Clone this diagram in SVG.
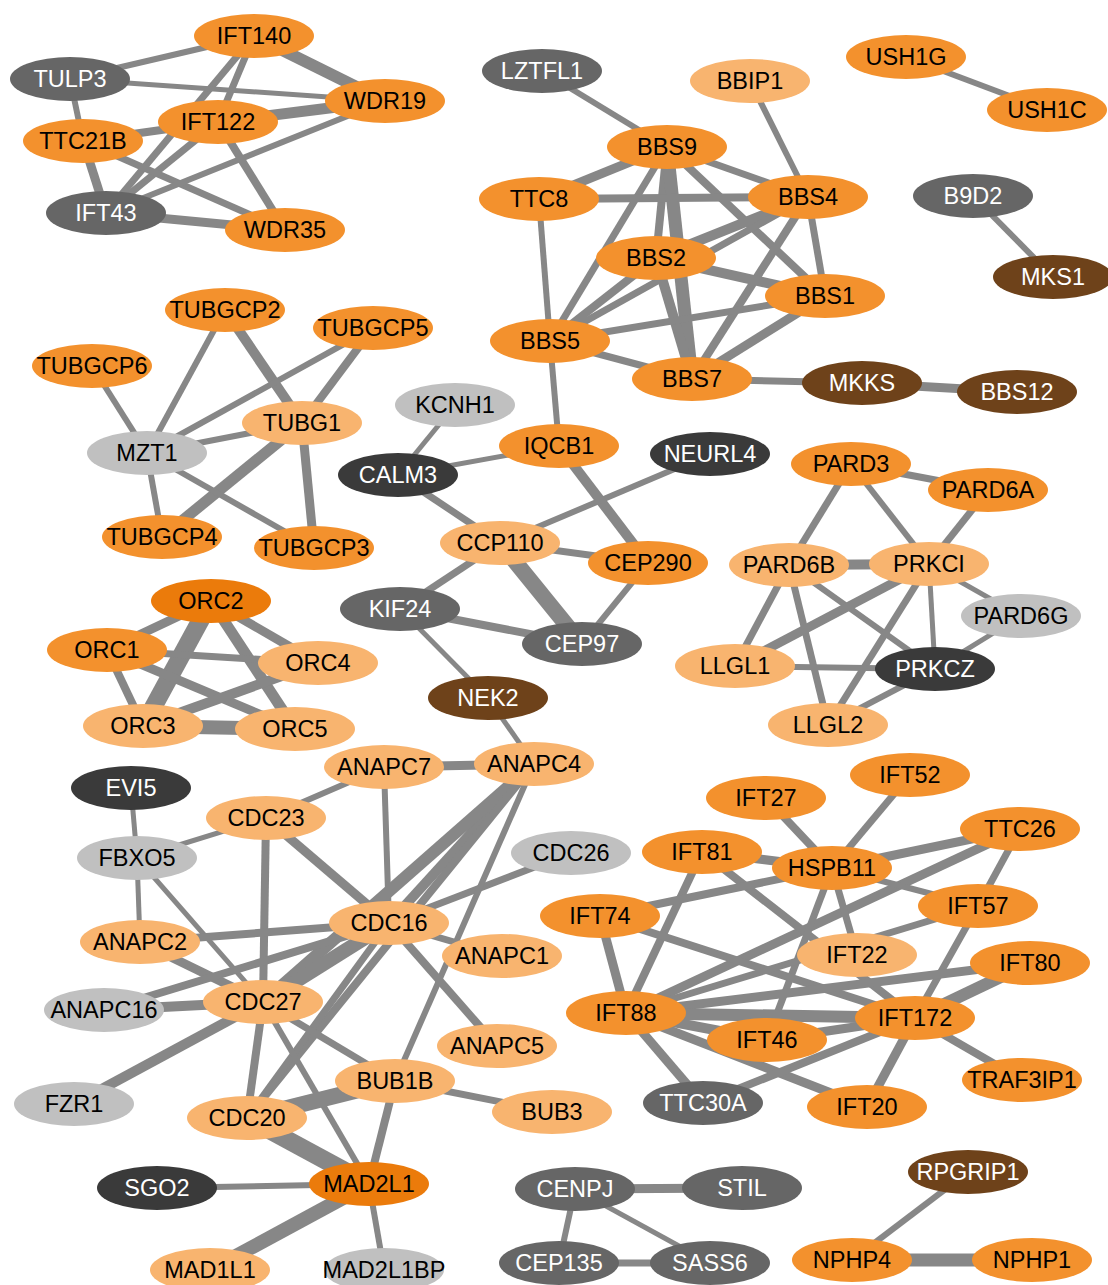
<svg xmlns="http://www.w3.org/2000/svg" width="1108" height="1285" viewBox="0 0 1108 1285">
<style>
text{font-family:"Liberation Sans",Arial,sans-serif;font-size:23.5px;text-anchor:middle}
.o ellipse{fill:#F3912D}.lo ellipse{fill:#F8B46F}.do ellipse{fill:#EB7B0B}
.lg ellipse{fill:#C0C0C0}.g ellipse{fill:#666666}.dk ellipse{fill:#3A3A3A}.br ellipse{fill:#6E421A}
.o text,.lo text,.do text,.lg text{fill:#000}
.g text,.dk text,.br text{fill:#fff}
#connectors line{stroke:#878787}
</style>
<rect width="1108" height="1285" fill="#fff"/>
<g id="connectors">
<line x1="254" y1="36" x2="70" y2="79" stroke-width="6"/>
<line x1="254" y1="36" x2="385" y2="101" stroke-width="12"/>
<line x1="254" y1="36" x2="218" y2="122" stroke-width="7"/>
<line x1="254" y1="36" x2="106" y2="213" stroke-width="7"/>
<line x1="70" y1="79" x2="385" y2="101" stroke-width="5"/>
<line x1="70" y1="79" x2="83" y2="141" stroke-width="6"/>
<line x1="218" y1="122" x2="385" y2="101" stroke-width="11"/>
<line x1="218" y1="122" x2="83" y2="141" stroke-width="8"/>
<line x1="218" y1="122" x2="285" y2="230" stroke-width="8"/>
<line x1="218" y1="122" x2="106" y2="213" stroke-width="7"/>
<line x1="83" y1="141" x2="106" y2="213" stroke-width="9"/>
<line x1="83" y1="141" x2="285" y2="230" stroke-width="7"/>
<line x1="106" y1="213" x2="285" y2="230" stroke-width="9"/>
<line x1="106" y1="213" x2="385" y2="101" stroke-width="6"/>

<line x1="542" y1="71" x2="667" y2="147" stroke-width="6"/>
<line x1="750" y1="81" x2="808" y2="197" stroke-width="6"/>
<line x1="667" y1="147" x2="539" y2="199" stroke-width="9"/>
<line x1="667" y1="147" x2="808" y2="197" stroke-width="7"/>
<line x1="667" y1="147" x2="656" y2="258" stroke-width="8"/>
<line x1="667" y1="147" x2="692" y2="379" stroke-width="13"/>
<line x1="667" y1="147" x2="550" y2="341" stroke-width="7"/>
<line x1="667" y1="147" x2="825" y2="296" stroke-width="8"/>
<line x1="539" y1="199" x2="808" y2="197" stroke-width="8"/>
<line x1="539" y1="199" x2="550" y2="341" stroke-width="6"/>
<line x1="808" y1="197" x2="656" y2="258" stroke-width="10"/>
<line x1="808" y1="197" x2="550" y2="341" stroke-width="7"/>
<line x1="808" y1="197" x2="825" y2="296" stroke-width="7"/>
<line x1="808" y1="197" x2="692" y2="379" stroke-width="8"/>
<line x1="656" y1="258" x2="825" y2="296" stroke-width="10"/>
<line x1="656" y1="258" x2="692" y2="379" stroke-width="10"/>
<line x1="656" y1="258" x2="550" y2="341" stroke-width="8"/>
<line x1="550" y1="341" x2="825" y2="296" stroke-width="7"/>
<line x1="550" y1="341" x2="692" y2="379" stroke-width="7"/>
<line x1="825" y1="296" x2="692" y2="379" stroke-width="9"/>
<line x1="692" y1="379" x2="862" y2="383" stroke-width="7"/>
<line x1="862" y1="383" x2="1017" y2="392" stroke-width="9"/>
<line x1="550" y1="341" x2="559" y2="446" stroke-width="6"/>
<line x1="906" y1="57" x2="1047" y2="110" stroke-width="6"/>
<line x1="973" y1="196" x2="1053" y2="277" stroke-width="6"/>

<line x1="92" y1="366" x2="147" y2="453" stroke-width="6"/>
<line x1="225" y1="310" x2="147" y2="453" stroke-width="6"/>
<line x1="225" y1="310" x2="302" y2="423" stroke-width="10"/>
<line x1="373" y1="328" x2="147" y2="453" stroke-width="6"/>
<line x1="373" y1="328" x2="302" y2="423" stroke-width="8"/>
<line x1="147" y1="453" x2="302" y2="423" stroke-width="6"/>
<line x1="302" y1="423" x2="162" y2="537" stroke-width="11"/>
<line x1="302" y1="423" x2="314" y2="548" stroke-width="9"/>
<line x1="147" y1="453" x2="162" y2="537" stroke-width="6"/>
<line x1="147" y1="453" x2="314" y2="548" stroke-width="6"/>

<line x1="455" y1="405" x2="398" y2="475" stroke-width="5"/>
<line x1="398" y1="475" x2="559" y2="446" stroke-width="5"/>
<line x1="398" y1="475" x2="500" y2="543" stroke-width="7"/>
<line x1="559" y1="446" x2="648" y2="563" stroke-width="10"/>
<line x1="710" y1="454" x2="500" y2="543" stroke-width="6"/>
<line x1="500" y1="543" x2="648" y2="563" stroke-width="7"/>
<line x1="500" y1="543" x2="400" y2="609" stroke-width="7"/>
<line x1="500" y1="543" x2="582" y2="644" stroke-width="16"/>
<line x1="648" y1="563" x2="582" y2="644" stroke-width="6"/>
<line x1="400" y1="609" x2="582" y2="644" stroke-width="8"/>
<line x1="400" y1="609" x2="488" y2="698" stroke-width="5"/>

<line x1="851" y1="464" x2="988" y2="490" stroke-width="7"/>
<line x1="851" y1="464" x2="789" y2="565" stroke-width="7"/>
<line x1="851" y1="464" x2="929" y2="564" stroke-width="6"/>
<line x1="988" y1="490" x2="929" y2="564" stroke-width="7"/>
<line x1="789" y1="565" x2="929" y2="564" stroke-width="10"/>
<line x1="789" y1="565" x2="735" y2="666" stroke-width="7"/>
<line x1="789" y1="565" x2="828" y2="725" stroke-width="7"/>
<line x1="789" y1="565" x2="935" y2="669" stroke-width="6"/>
<line x1="929" y1="564" x2="735" y2="666" stroke-width="9"/>
<line x1="929" y1="564" x2="828" y2="725" stroke-width="7"/>
<line x1="929" y1="564" x2="935" y2="669" stroke-width="5"/>
<line x1="929" y1="564" x2="1021" y2="616" stroke-width="5"/>
<line x1="1021" y1="616" x2="935" y2="669" stroke-width="5"/>
<line x1="735" y1="666" x2="935" y2="669" stroke-width="6"/>
<line x1="935" y1="669" x2="828" y2="725" stroke-width="6"/>

<line x1="211" y1="601" x2="107" y2="650" stroke-width="9"/>
<line x1="211" y1="601" x2="143" y2="726" stroke-width="18"/>
<line x1="211" y1="601" x2="318" y2="663" stroke-width="9"/>
<line x1="211" y1="601" x2="295" y2="729" stroke-width="11"/>
<line x1="107" y1="650" x2="143" y2="726" stroke-width="8"/>
<line x1="107" y1="650" x2="318" y2="663" stroke-width="7"/>
<line x1="107" y1="650" x2="295" y2="729" stroke-width="9"/>
<line x1="143" y1="726" x2="318" y2="663" stroke-width="10"/>
<line x1="143" y1="726" x2="295" y2="729" stroke-width="14"/>

<line x1="384" y1="767" x2="534" y2="764" stroke-width="9"/>
<line x1="384" y1="767" x2="266" y2="818" stroke-width="6"/>
<line x1="384" y1="767" x2="389" y2="923" stroke-width="6"/>
<line x1="488" y1="698" x2="534" y2="764" stroke-width="5"/>
<line x1="131" y1="788" x2="137" y2="858" stroke-width="5"/>
<line x1="137" y1="858" x2="266" y2="818" stroke-width="5"/>
<line x1="137" y1="858" x2="140" y2="942" stroke-width="5"/>
<line x1="137" y1="858" x2="263" y2="1002" stroke-width="5"/>
<line x1="266" y1="818" x2="389" y2="923" stroke-width="9"/>
<line x1="266" y1="818" x2="263" y2="1002" stroke-width="8"/>
<line x1="571" y1="853" x2="389" y2="923" stroke-width="7"/>
<line x1="534" y1="764" x2="389" y2="923" stroke-width="10"/>
<line x1="534" y1="764" x2="263" y2="1002" stroke-width="12"/>
<line x1="534" y1="764" x2="247" y2="1118" stroke-width="8"/>
<line x1="534" y1="764" x2="395" y2="1081" stroke-width="6"/>
<line x1="140" y1="942" x2="389" y2="923" stroke-width="8"/>
<line x1="140" y1="942" x2="263" y2="1002" stroke-width="9"/>
<line x1="389" y1="923" x2="502" y2="956" stroke-width="7"/>
<line x1="389" y1="923" x2="497" y2="1046" stroke-width="8"/>
<line x1="389" y1="923" x2="104" y2="1010" stroke-width="8"/>
<line x1="389" y1="923" x2="263" y2="1002" stroke-width="14"/>
<line x1="389" y1="923" x2="247" y2="1118" stroke-width="7"/>
<line x1="104" y1="1010" x2="263" y2="1002" stroke-width="10"/>
<line x1="263" y1="1002" x2="74" y2="1104" stroke-width="10"/>
<line x1="263" y1="1002" x2="247" y2="1118" stroke-width="8"/>
<line x1="263" y1="1002" x2="395" y2="1081" stroke-width="7"/>
<line x1="263" y1="1002" x2="369" y2="1184" stroke-width="6"/>
<line x1="395" y1="1081" x2="247" y2="1118" stroke-width="16"/>
<line x1="395" y1="1081" x2="552" y2="1112" stroke-width="7"/>
<line x1="395" y1="1081" x2="369" y2="1184" stroke-width="8"/>
<line x1="247" y1="1118" x2="369" y2="1184" stroke-width="18"/>
<line x1="157" y1="1188" x2="369" y2="1184" stroke-width="6"/>
<line x1="369" y1="1184" x2="210" y2="1270" stroke-width="14"/>
<line x1="369" y1="1184" x2="384" y2="1270" stroke-width="6"/>

<line x1="766" y1="798" x2="832" y2="868" stroke-width="8"/>
<line x1="910" y1="775" x2="832" y2="868" stroke-width="7"/>
<line x1="1020" y1="829" x2="832" y2="868" stroke-width="9"/>
<line x1="1020" y1="829" x2="626" y2="1013" stroke-width="9"/>
<line x1="1020" y1="829" x2="978" y2="906" stroke-width="7"/>
<line x1="978" y1="906" x2="915" y2="1018" stroke-width="7"/>
<line x1="702" y1="852" x2="832" y2="868" stroke-width="9"/>
<line x1="702" y1="852" x2="626" y2="1013" stroke-width="8"/>
<line x1="702" y1="852" x2="915" y2="1018" stroke-width="8"/>
<line x1="832" y1="868" x2="600" y2="916" stroke-width="8"/>
<line x1="832" y1="868" x2="978" y2="906" stroke-width="6"/>
<line x1="832" y1="868" x2="857" y2="955" stroke-width="7"/>
<line x1="832" y1="868" x2="767" y2="1040" stroke-width="7"/>
<line x1="600" y1="916" x2="626" y2="1013" stroke-width="9"/>
<line x1="600" y1="916" x2="915" y2="1018" stroke-width="8"/>
<line x1="626" y1="1013" x2="978" y2="906" stroke-width="7"/>
<line x1="626" y1="1013" x2="1030" y2="963" stroke-width="9"/>
<line x1="1030" y1="963" x2="915" y2="1018" stroke-width="12"/>
<line x1="626" y1="1013" x2="915" y2="1018" stroke-width="12"/>
<line x1="626" y1="1013" x2="767" y2="1040" stroke-width="10"/>
<line x1="626" y1="1013" x2="867" y2="1107" stroke-width="9"/>
<line x1="626" y1="1013" x2="703" y2="1103" stroke-width="9"/>
<line x1="915" y1="1018" x2="767" y2="1040" stroke-width="9"/>
<line x1="915" y1="1018" x2="867" y2="1107" stroke-width="9"/>
<line x1="915" y1="1018" x2="1022" y2="1080" stroke-width="8"/>
<line x1="915" y1="1018" x2="703" y2="1103" stroke-width="8"/>

<line x1="575" y1="1189" x2="742" y2="1188" stroke-width="9"/>
<line x1="575" y1="1189" x2="559" y2="1263" stroke-width="6"/>
<line x1="575" y1="1189" x2="710" y2="1263" stroke-width="5"/>
<line x1="559" y1="1263" x2="710" y2="1263" stroke-width="7"/>
<line x1="968" y1="1172" x2="852" y2="1260" stroke-width="6"/>
<line x1="852" y1="1260" x2="1032" y2="1260" stroke-width="13"/>
</g>

<g id="IFT140" class="o"><ellipse cx="254" cy="36" rx="60" ry="22"/><text x="254" y="44">IFT140</text></g>
<g id="TULP3" class="g"><ellipse cx="70" cy="79" rx="60" ry="22"/><text x="70" y="87">TULP3</text></g>
<g id="WDR19" class="o"><ellipse cx="385" cy="101" rx="60" ry="22"/><text x="385" y="109">WDR19</text></g>
<g id="IFT122" class="o"><ellipse cx="218" cy="122" rx="60" ry="22"/><text x="218" y="130">IFT122</text></g>
<g id="TTC21B" class="o"><ellipse cx="83" cy="141" rx="60" ry="22"/><text x="83" y="149">TTC21B</text></g>
<g id="IFT43" class="g"><ellipse cx="106" cy="213" rx="60" ry="22"/><text x="106" y="221">IFT43</text></g>
<g id="WDR35" class="o"><ellipse cx="285" cy="230" rx="60" ry="22"/><text x="285" y="238">WDR35</text></g>
<g id="LZTFL1" class="g"><ellipse cx="542" cy="71" rx="60" ry="22"/><text x="542" y="79">LZTFL1</text></g>
<g id="BBIP1" class="lo"><ellipse cx="750" cy="81" rx="60" ry="22"/><text x="750" y="89">BBIP1</text></g>
<g id="USH1G" class="o"><ellipse cx="906" cy="57" rx="60" ry="22"/><text x="906" y="65">USH1G</text></g>
<g id="USH1C" class="o"><ellipse cx="1047" cy="110" rx="60" ry="22"/><text x="1047" y="118">USH1C</text></g>
<g id="BBS9" class="o"><ellipse cx="667" cy="147" rx="60" ry="22"/><text x="667" y="155">BBS9</text></g>
<g id="TTC8" class="o"><ellipse cx="539" cy="199" rx="60" ry="22"/><text x="539" y="207">TTC8</text></g>
<g id="BBS4" class="o"><ellipse cx="808" cy="197" rx="60" ry="22"/><text x="808" y="205">BBS4</text></g>
<g id="B9D2" class="g"><ellipse cx="973" cy="196" rx="60" ry="22"/><text x="973" y="204">B9D2</text></g>
<g id="BBS2" class="o"><ellipse cx="656" cy="258" rx="60" ry="22"/><text x="656" y="266">BBS2</text></g>
<g id="BBS1" class="o"><ellipse cx="825" cy="296" rx="60" ry="22"/><text x="825" y="304">BBS1</text></g>
<g id="MKS1" class="br"><ellipse cx="1053" cy="277" rx="60" ry="22"/><text x="1053" y="285">MKS1</text></g>
<g id="BBS5" class="o"><ellipse cx="550" cy="341" rx="60" ry="22"/><text x="550" y="349">BBS5</text></g>
<g id="BBS7" class="o"><ellipse cx="692" cy="379" rx="60" ry="22"/><text x="692" y="387">BBS7</text></g>
<g id="MKKS" class="br"><ellipse cx="862" cy="383" rx="60" ry="22"/><text x="862" y="391">MKKS</text></g>
<g id="BBS12" class="br"><ellipse cx="1017" cy="392" rx="60" ry="22"/><text x="1017" y="400">BBS12</text></g>
<g id="TUBGCP2" class="o"><ellipse cx="225" cy="310" rx="60" ry="22"/><text x="225" y="318">TUBGCP2</text></g>
<g id="TUBGCP5" class="o"><ellipse cx="373" cy="328" rx="60" ry="22"/><text x="373" y="336">TUBGCP5</text></g>
<g id="TUBGCP6" class="o"><ellipse cx="92" cy="366" rx="60" ry="22"/><text x="92" y="374">TUBGCP6</text></g>
<g id="TUBG1" class="lo"><ellipse cx="302" cy="423" rx="60" ry="22"/><text x="302" y="431">TUBG1</text></g>
<g id="MZT1" class="lg"><ellipse cx="147" cy="453" rx="60" ry="22"/><text x="147" y="461">MZT1</text></g>
<g id="TUBGCP4" class="o"><ellipse cx="162" cy="537" rx="60" ry="22"/><text x="162" y="545">TUBGCP4</text></g>
<g id="TUBGCP3" class="o"><ellipse cx="314" cy="548" rx="60" ry="22"/><text x="314" y="556">TUBGCP3</text></g>
<g id="KCNH1" class="lg"><ellipse cx="455" cy="405" rx="60" ry="22"/><text x="455" y="413">KCNH1</text></g>
<g id="CALM3" class="dk"><ellipse cx="398" cy="475" rx="60" ry="22"/><text x="398" y="483">CALM3</text></g>
<g id="IQCB1" class="o"><ellipse cx="559" cy="446" rx="60" ry="22"/><text x="559" y="454">IQCB1</text></g>
<g id="NEURL4" class="dk"><ellipse cx="710" cy="454" rx="60" ry="22"/><text x="710" y="462">NEURL4</text></g>
<g id="CCP110" class="lo"><ellipse cx="500" cy="543" rx="60" ry="22"/><text x="500" y="551">CCP110</text></g>
<g id="CEP290" class="o"><ellipse cx="648" cy="563" rx="60" ry="22"/><text x="648" y="571">CEP290</text></g>
<g id="KIF24" class="g"><ellipse cx="400" cy="609" rx="60" ry="22"/><text x="400" y="617">KIF24</text></g>
<g id="CEP97" class="g"><ellipse cx="582" cy="644" rx="60" ry="22"/><text x="582" y="652">CEP97</text></g>
<g id="NEK2" class="br"><ellipse cx="488" cy="698" rx="60" ry="22"/><text x="488" y="706">NEK2</text></g>
<g id="PARD3" class="o"><ellipse cx="851" cy="464" rx="60" ry="22"/><text x="851" y="472">PARD3</text></g>
<g id="PARD6A" class="o"><ellipse cx="988" cy="490" rx="60" ry="22"/><text x="988" y="498">PARD6A</text></g>
<g id="PARD6B" class="lo"><ellipse cx="789" cy="565" rx="60" ry="22"/><text x="789" y="573">PARD6B</text></g>
<g id="PRKCI" class="lo"><ellipse cx="929" cy="564" rx="60" ry="22"/><text x="929" y="572">PRKCI</text></g>
<g id="PARD6G" class="lg"><ellipse cx="1021" cy="616" rx="60" ry="22"/><text x="1021" y="624">PARD6G</text></g>
<g id="LLGL1" class="lo"><ellipse cx="735" cy="666" rx="60" ry="22"/><text x="735" y="674">LLGL1</text></g>
<g id="PRKCZ" class="dk"><ellipse cx="935" cy="669" rx="60" ry="22"/><text x="935" y="677">PRKCZ</text></g>
<g id="LLGL2" class="lo"><ellipse cx="828" cy="725" rx="60" ry="22"/><text x="828" y="733">LLGL2</text></g>
<g id="ORC2" class="do"><ellipse cx="211" cy="601" rx="60" ry="22"/><text x="211" y="609">ORC2</text></g>
<g id="ORC1" class="o"><ellipse cx="107" cy="650" rx="60" ry="22"/><text x="107" y="658">ORC1</text></g>
<g id="ORC4" class="lo"><ellipse cx="318" cy="663" rx="60" ry="22"/><text x="318" y="671">ORC4</text></g>
<g id="ORC3" class="lo"><ellipse cx="143" cy="726" rx="60" ry="22"/><text x="143" y="734">ORC3</text></g>
<g id="ORC5" class="lo"><ellipse cx="295" cy="729" rx="60" ry="22"/><text x="295" y="737">ORC5</text></g>
<g id="ANAPC7" class="lo"><ellipse cx="384" cy="767" rx="60" ry="22"/><text x="384" y="775">ANAPC7</text></g>
<g id="ANAPC4" class="lo"><ellipse cx="534" cy="764" rx="60" ry="22"/><text x="534" y="772">ANAPC4</text></g>
<g id="EVI5" class="dk"><ellipse cx="131" cy="788" rx="60" ry="22"/><text x="131" y="796">EVI5</text></g>
<g id="CDC23" class="lo"><ellipse cx="266" cy="818" rx="60" ry="22"/><text x="266" y="826">CDC23</text></g>
<g id="FBXO5" class="lg"><ellipse cx="137" cy="858" rx="60" ry="22"/><text x="137" y="866">FBXO5</text></g>
<g id="CDC26" class="lg"><ellipse cx="571" cy="853" rx="60" ry="22"/><text x="571" y="861">CDC26</text></g>
<g id="CDC16" class="lo"><ellipse cx="389" cy="923" rx="60" ry="22"/><text x="389" y="931">CDC16</text></g>
<g id="ANAPC2" class="lo"><ellipse cx="140" cy="942" rx="60" ry="22"/><text x="140" y="950">ANAPC2</text></g>
<g id="ANAPC1" class="lo"><ellipse cx="502" cy="956" rx="60" ry="22"/><text x="502" y="964">ANAPC1</text></g>
<g id="ANAPC16" class="lg"><ellipse cx="104" cy="1010" rx="60" ry="22"/><text x="104" y="1018">ANAPC16</text></g>
<g id="CDC27" class="lo"><ellipse cx="263" cy="1002" rx="60" ry="22"/><text x="263" y="1010">CDC27</text></g>
<g id="ANAPC5" class="lo"><ellipse cx="497" cy="1046" rx="60" ry="22"/><text x="497" y="1054">ANAPC5</text></g>
<g id="BUB1B" class="lo"><ellipse cx="395" cy="1081" rx="60" ry="22"/><text x="395" y="1089">BUB1B</text></g>
<g id="FZR1" class="lg"><ellipse cx="74" cy="1104" rx="60" ry="22"/><text x="74" y="1112">FZR1</text></g>
<g id="CDC20" class="lo"><ellipse cx="247" cy="1118" rx="60" ry="22"/><text x="247" y="1126">CDC20</text></g>
<g id="BUB3" class="lo"><ellipse cx="552" cy="1112" rx="60" ry="22"/><text x="552" y="1120">BUB3</text></g>
<g id="SGO2" class="dk"><ellipse cx="157" cy="1188" rx="60" ry="22"/><text x="157" y="1196">SGO2</text></g>
<g id="MAD2L1" class="do"><ellipse cx="369" cy="1184" rx="60" ry="22"/><text x="369" y="1192">MAD2L1</text></g>
<g id="MAD1L1" class="lo"><ellipse cx="210" cy="1270" rx="60" ry="22"/><text x="210" y="1278">MAD1L1</text></g>
<g id="MAD2L1BP" class="lg"><ellipse cx="384" cy="1270" rx="60" ry="22"/><text x="384" y="1278">MAD2L1BP</text></g>
<g id="IFT27" class="o"><ellipse cx="766" cy="798" rx="60" ry="22"/><text x="766" y="806">IFT27</text></g>
<g id="IFT52" class="o"><ellipse cx="910" cy="775" rx="60" ry="22"/><text x="910" y="783">IFT52</text></g>
<g id="TTC26" class="o"><ellipse cx="1020" cy="829" rx="60" ry="22"/><text x="1020" y="837">TTC26</text></g>
<g id="IFT81" class="o"><ellipse cx="702" cy="852" rx="60" ry="22"/><text x="702" y="860">IFT81</text></g>
<g id="HSPB11" class="o"><ellipse cx="832" cy="868" rx="60" ry="22"/><text x="832" y="876">HSPB11</text></g>
<g id="IFT74" class="o"><ellipse cx="600" cy="916" rx="60" ry="22"/><text x="600" y="924">IFT74</text></g>
<g id="IFT57" class="o"><ellipse cx="978" cy="906" rx="60" ry="22"/><text x="978" y="914">IFT57</text></g>
<g id="IFT22" class="lo"><ellipse cx="857" cy="955" rx="60" ry="22"/><text x="857" y="963">IFT22</text></g>
<g id="IFT80" class="o"><ellipse cx="1030" cy="963" rx="60" ry="22"/><text x="1030" y="971">IFT80</text></g>
<g id="IFT88" class="o"><ellipse cx="626" cy="1013" rx="60" ry="22"/><text x="626" y="1021">IFT88</text></g>
<g id="IFT172" class="o"><ellipse cx="915" cy="1018" rx="60" ry="22"/><text x="915" y="1026">IFT172</text></g>
<g id="IFT46" class="o"><ellipse cx="767" cy="1040" rx="60" ry="22"/><text x="767" y="1048">IFT46</text></g>
<g id="TRAF3IP1" class="o"><ellipse cx="1022" cy="1080" rx="60" ry="22"/><text x="1022" y="1088">TRAF3IP1</text></g>
<g id="TTC30A" class="g"><ellipse cx="703" cy="1103" rx="60" ry="22"/><text x="703" y="1111">TTC30A</text></g>
<g id="IFT20" class="o"><ellipse cx="867" cy="1107" rx="60" ry="22"/><text x="867" y="1115">IFT20</text></g>
<g id="CENPJ" class="g"><ellipse cx="575" cy="1189" rx="60" ry="22"/><text x="575" y="1197">CENPJ</text></g>
<g id="STIL" class="g"><ellipse cx="742" cy="1188" rx="60" ry="22"/><text x="742" y="1196">STIL</text></g>
<g id="CEP135" class="g"><ellipse cx="559" cy="1263" rx="60" ry="22"/><text x="559" y="1271">CEP135</text></g>
<g id="SASS6" class="g"><ellipse cx="710" cy="1263" rx="60" ry="22"/><text x="710" y="1271">SASS6</text></g>
<g id="RPGRIP1" class="br"><ellipse cx="968" cy="1172" rx="60" ry="22"/><text x="968" y="1180">RPGRIP1</text></g>
<g id="NPHP4" class="o"><ellipse cx="852" cy="1260" rx="60" ry="22"/><text x="852" y="1268">NPHP4</text></g>
<g id="NPHP1" class="o"><ellipse cx="1032" cy="1260" rx="60" ry="22"/><text x="1032" y="1268">NPHP1</text></g>
</svg>
